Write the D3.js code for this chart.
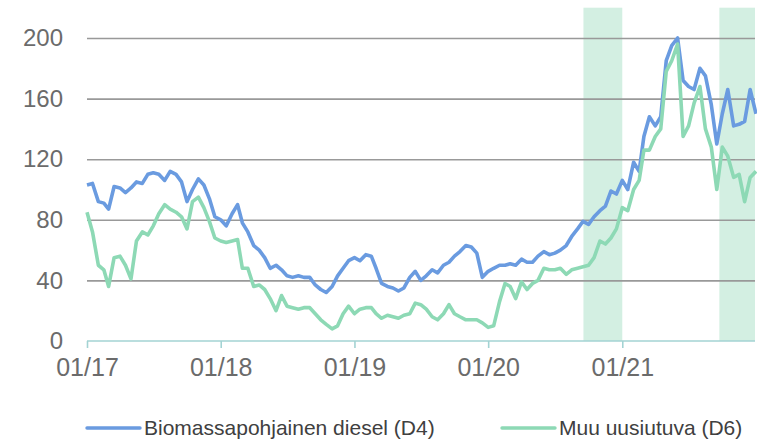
<!DOCTYPE html>
<html>
<head>
<meta charset="utf-8">
<script src="https://cdnjs.cloudflare.com/ajax/libs/d3/7.8.5/d3.min.js"></script>
<style>
  body { margin: 0; background: #fff; }
  svg { display: block; font-family: "Liberation Sans", Arial, sans-serif; }
</style>
</head>
<body>
<script>
//Data: semi-monthly readings (1st and 16th of every month), 01/2017 - 01/2022
var startYear = 2017;
var endYear = 2022;

var seriesNames = ["Biomassapohjainen diesel (D4)", "Muu uusiutuva (D6)"];

var d4Values = [
  103,104,92,91,87,102,101,98,101,105,104,110,111,110,106,112,110,105,92,100,107,103,94,82,
  80,76,84,90,78,72,63,60,55,48,50,47,43,42,43,42,42,37,34,32,36,43,48,53,
  55,53,57,56,48,38,36,35,33,35,42,46,40,43,47,45,50,52,56,59,63,62,58,42,
  46,48,50,50,51,50,54,52,52,56,59,57,58,60,63,69,74,79,77,82,86,89,99,97,
  106,100,118,112,135,148,142,148,185,195,200,172,168,166,180,175,156,130,150,166,142,143,145,166,150
];

var d6Values = [
  85,72,50,47,36,55,56,50,41,66,72,70,76,84,90,87,85,82,74,92,95,88,79,68,
  66,65,66,67,48,48,36,37,34,28,20,30,23,22,21,22,22,18,14,11,8,10,18,23,
  18,21,22,22,18,15,17,16,15,17,18,25,24,21,16,14,18,24,18,16,14,14,14,12,
  9,10,26,38,36,28,39,34,38,40,48,47,47,48,44,47,48,49,50,55,66,64,68,74,
  88,86,100,106,126,126,135,140,178,185,196,135,142,157,168,140,128,100,128,122,108,110,92,108,112
];

//Shaded periods
var bandStarts = ["2020-09-17", "2021-09-23"];
var bandEnds = ["2021-01-01", "2022-01-01"];

var yTicks = [0, 40, 80, 120, 160, 200];
var xTickYears = [2017, 2018, 2019, 2020, 2021];

var colors = ["#6a9be0", "#8dd9b5"];

//Build date grid
var dates = [];
d3.timeMonth.range(new Date(startYear, 0, 1), new Date(endYear, 0, 1)).forEach(function(m) {
  dates.push(m);
  dates.push(new Date(m.getFullYear(), m.getMonth(), 16));
});
dates.push(new Date(endYear, 0, 1));

var series = [d4Values, d6Values].map(function(vals) {
  return vals.map(function(v, i) { return {date: dates[i], value: v}; });
});

var w = 757, h = 440;
var parse = d3.timeParse("%Y-%m-%d");

var svg = d3.select("body").append("svg")
  .attr("width", w)
  .attr("height", h);

//Scales
var x = d3.scaleTime()
  .domain([new Date(startYear, 0, 1), new Date(endYear, 0, 1)])
  .range([87, 756]);
var y = d3.scaleLinear()
  .domain([0, 220])
  .range([341, 7.7]);

//Shaded bands
svg.selectAll("rect.band")
  .data(bandStarts)
  .enter()
  .append("rect")
    .attr("class", "band")
    .attr("x", (d) => x(parse(d)))
    .attr("width", (d, i) => Math.min(x(parse(bandEnds[i])), 755) - x(parse(d)))
    .attr("y", y(220))
    .attr("height", y(0) - y(220))
    .attr("fill", "#d3efe2");

//Y axis with gridlines
var yAxis = svg.append("g")
  .attr("transform", "translate(87,0)")
  .call(d3.axisLeft(y).tickValues(yTicks).tickSize(-668).tickPadding(24));
yAxis.select(".domain").remove();
yAxis.selectAll("line")
  .attr("stroke", (d) => d == 0 ? "none" : "#999")
  .attr("stroke-width", 1.6);
yAxis.selectAll("text")
  .attr("fill", "#6b6b6b")
  .style("font-size", "24px");

//Lines
var line = d3.line()
  .x((d) => x(d.date))
  .y((d) => y(d.value));

svg.selectAll("path.series")
  .data(series)
  .enter()
  .append("path")
    .attr("class", "series")
    .attr("d", line)
    .attr("fill", "none")
    .attr("stroke", (d, i) => colors[i])
    .attr("stroke-width", 3.6)
    .attr("stroke-linejoin", "round");

//X axis
var xAxis = svg.append("g")
  .attr("transform", "translate(0,341)")
  .call(d3.axisBottom(x)
    .tickValues(xTickYears.map((yr) => new Date(yr, 0, 1)))
    .tickFormat(d3.timeFormat("%m/%y"))
    .tickSizeInner(7)
    .tickSizeOuter(0)
    .tickPadding(10));
xAxis.select(".domain")
  .attr("d", "M87,0H755")
  .attr("stroke", "#a3d3d3")
  .attr("stroke-width", 1.6);
xAxis.selectAll("line")
  .attr("stroke", "#a3d3d3")
  .attr("stroke-width", 1.6);
xAxis.selectAll("text")
  .attr("fill", "#6b6b6b")
  .style("font-size", "25px");

//Legend
var legendX = [87, 502];
var legend = svg.selectAll("g.legend")
  .data(seriesNames)
  .enter()
  .append("g")
    .attr("class", "legend")
    .attr("transform", (d, i) => "translate(" + legendX[i] + ",428)");
legend.append("line")
  .attr("x1", 0).attr("x2", 53)
  .attr("stroke", (d, i) => colors[i])
  .attr("stroke-width", 3.4)
  .attr("stroke-linecap", "round");
legend.append("text")
  .attr("x", 57)
  .attr("dy", "0.35em")
  .attr("fill", "#404040")
  .style("font-size", "21px")
  .text((d) => d);
</script>
</body>
</html>
